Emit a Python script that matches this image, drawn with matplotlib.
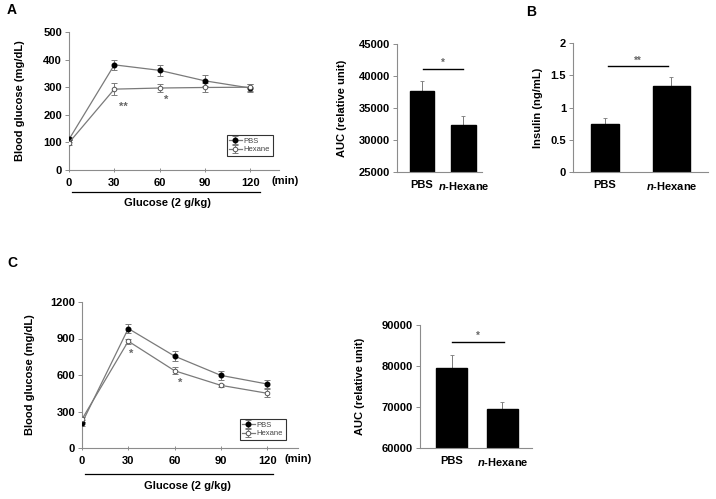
import matplotlib
matplotlib.use("Agg")
import matplotlib.pyplot as plt
import numpy as np

# -- data --
time_min = [0, 30, 60, 90, 120]
time_ticks = [0, 30, 60, 90, 120]

# panel A, glucose tolerance
a_pbs = [111, 381, 361, 323, 297]
a_pbs_err = [8, 19, 19, 20, 13]
a_hex = [99, 293, 297, 299, 300]
a_hex_err = [8, 22, 15, 18, 12]
a_stars = [(36, 228, '**'), (64, 254, '*')]

# panel A, AUC
auc_groups = ['PBS', '$n$-Hexane']
a_auc = [37600, 32300]
a_auc_err = [1600, 1500]
a_auc_sig = 41100

# panel B, insulin
b_ins = [0.75, 1.34]
b_ins_err = [0.08, 0.14]
b_ins_sig = 1.64

# panel C, glucose tolerance
c_pbs = [205, 982, 755, 597, 526]
c_pbs_err = [25, 35, 44, 35, 33]
c_hex = [237, 878, 635, 515, 450]
c_hex_err = [20, 22, 30, 12, 33]
c_stars = [(32, 775, '*'), (63.5, 538, '*')]

# panel C, AUC
c_auc = [79400, 69400]
c_auc_err = [3300, 1800]
c_auc_sig = 85900

plt.rcParams['font.family'] = ['Liberation Sans', 'DejaVu Sans']
plt.rcParams['font.weight'] = 'bold'
plt.rcParams['mathtext.fontset'] = 'custom'
plt.rcParams['mathtext.it'] = 'Liberation Sans:bold:italic'
plt.rcParams['mathtext.rm'] = 'Liberation Sans:bold'

GREY = '#7a7a7a'
AXC = '#8c8c8c'
FS = 8


def px_axes(fig, left, top, right, bottom):
    W, H = 716, 499
    return fig.add_axes([left / W, 1 - bottom / H, (right - left) / W, (bottom - top) / H])


def style_axes(ax):
    for s in ['top', 'right']:
        ax.spines[s].set_visible(False)
    for s in ['left', 'bottom']:
        ax.spines[s].set_color(AXC)
        ax.spines[s].set_linewidth(0.8)
    ax.tick_params(colors=AXC, labelcolor='black', labelsize=FS, length=3, width=0.7, pad=2)
    for lab in ax.get_xticklabels() + ax.get_yticklabels():
        lab.set_fontweight('bold')


def line_panel(ax, pbs, pbs_err, hexv, hex_err, ymax, ystep, xmax, stars, leg_anchor, ylab_x,
               bar_x, bar_y, txt_x, txt_y, min_x):
    ax.errorbar(time_min, pbs, yerr=pbs_err, color=GREY, lw=0.9, marker='o', ms=3.3,
                mfc='black', mec='black', ecolor=GREY, elinewidth=0.7, capsize=2, capthick=0.7,
                label='PBS', zorder=3)
    ax.errorbar(time_min, hexv, yerr=hex_err, color=GREY, lw=0.9, marker='o', ms=3.3,
                mfc='white', mec='#555555', mew=0.7, ecolor=GREY, elinewidth=0.7, capsize=2,
                capthick=0.7, label='Hexane', zorder=3)
    ax.set_xlim(0, xmax)
    ax.set_ylim(0, ymax)
    ax.set_xticks(time_ticks)
    ax.set_yticks(np.arange(0, ymax + 1, ystep))
    style_axes(ax)
    ax.tick_params(axis='x', direction='inout', length=3, pad=4)
    for x, y, s in stars:
        ax.text(x, y, s, ha='center', va='center', fontsize=8, color='#666666', fontweight='bold')
    leg = ax.legend(loc='upper right', bbox_to_anchor=leg_anchor, fontsize=5.5, frameon=True,
                    fancybox=False, edgecolor='black', handlelength=1.6, handletextpad=0.3,
                    borderpad=0.35, labelspacing=0.15, borderaxespad=0)
    leg.get_frame().set_linewidth(0.8)
    for t in leg.get_texts():
        t.set_fontweight('normal')
        t.set_color('#444444')
    ax.set_ylabel('Blood glucose (mg/dL)', fontsize=FS, fontweight='bold')
    ax.yaxis.set_label_coords(ylab_x, 0.5)
    ax.text(min_x, -0.04, '(min)', transform=ax.transAxes, ha='center',
            va='top', fontsize=FS, fontweight='bold')
    ax.plot(bar_x, [bar_y, bar_y], color='black', lw=0.9, transform=ax.transAxes, clip_on=False)
    ax.text(txt_x, txt_y, 'Glucose (2 g/kg)', transform=ax.transAxes, ha='center', va='center',
            fontsize=FS, fontweight='bold')


def bar_panel(ax, vals, errs, widths, xlim, ylim, yticks, yticklabels, sig_y, sig_x, sig_txt,
              ylabel, ylab_x):
    x = np.arange(len(vals))
    ax.bar(x, vals, width=widths, color='black', edgecolor='black', zorder=2)
    ax.errorbar(x, vals, yerr=[np.zeros(len(errs)), errs], fmt='none', ecolor=GREY,
                elinewidth=0.7, capsize=1.5, capthick=0.6, zorder=1)
    ax.set_xlim(*xlim)
    ax.set_ylim(*ylim)
    ax.set_yticks(yticks)
    ax.set_yticklabels(yticklabels)
    ax.set_xticks(x)
    ax.set_xticklabels(auc_groups)
    style_axes(ax)
    ax.tick_params(axis='x', length=0, pad=6)
    ax.plot(sig_x, [sig_y, sig_y], color='black', lw=1.0, clip_on=False)
    span = ylim[1] - ylim[0]
    ax.text(np.mean(sig_x), sig_y + span * 0.005, sig_txt, ha='center', va='bottom',
            fontsize=7, color='#666666', fontweight='bold')
    ax.set_ylabel(ylabel, fontsize=FS, fontweight='bold')
    ax.yaxis.set_label_coords(ylab_x, 0.5)


def main():
    fig = plt.figure(figsize=(7.16, 4.99), dpi=100)

    # A: glucose curve
    ax1 = px_axes(fig, 69, 32, 279, 170)
    line_panel(ax1, a_pbs, a_pbs_err, a_hex, a_hex_err, 500, 100, 139, a_stars,
               (0.971, 0.254), -0.21, [0.014, 0.91], -0.16, 0.47, -0.24, 1.03)

    # A: AUC
    ax2 = px_axes(fig, 397, 44, 482, 172)
    bar_panel(ax2, a_auc, a_auc_err, 0.59, (-0.6, 1.45), (25000, 45000),
              np.arange(25000, 45001, 5000), [str(v) for v in range(25000, 45001, 5000)],
              a_auc_sig, [0.02, 1.0], '*', 'AUC (relative unit)', -0.59)

    # B: insulin
    ax3 = px_axes(fig, 573, 43, 708, 172)
    bar_panel(ax3, b_ins, b_ins_err, [0.42, 0.56], (-0.48, 1.55), (0, 2),
              [0, 0.5, 1, 1.5, 2], ['0', '0.5', '1', '1.5', '2'],
              b_ins_sig, [0.05, 0.95], '**', 'Insulin (ng/mL)', -0.22)

    # C: glucose curve
    ax4 = px_axes(fig, 82, 302, 298, 448)
    line_panel(ax4, c_pbs, c_pbs_err, c_hex, c_hex_err, 1200, 300, 140, c_stars,
               (0.944, 0.199), -0.218, [0.014, 0.884], -0.178, 0.49, -0.26, 1.0)

    # C: AUC
    ax5 = px_axes(fig, 420, 325, 532, 448)
    bar_panel(ax5, c_auc, c_auc_err, 0.61, (-0.62, 1.58), (60000, 90000),
              np.arange(60000, 90001, 10000), [str(v) for v in range(60000, 90001, 10000)],
              c_auc_sig, [0.01, 1.03], '*', 'AUC (relative unit)', -0.49)

    fig.text(12 / 716, 1 - 10 / 499, 'A', ha='center', va='center', fontsize=10, fontweight='bold')
    fig.text(531 / 716, 1 - 12 / 499, 'B', ha='center', va='center', fontsize=10, fontweight='bold')
    fig.text(12 / 716, 1 - 263 / 499, 'C', ha='center', va='center', fontsize=10, fontweight='bold')

    fig.savefig('out.png', dpi=100)


if __name__ == "__main__":
    main()
